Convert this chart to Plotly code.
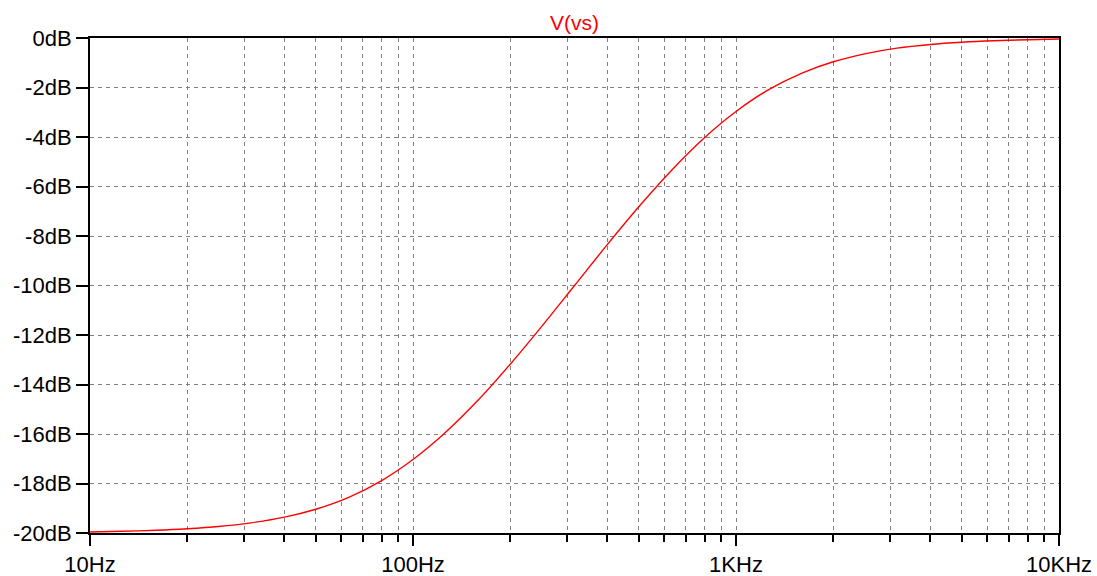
import plotly.graph_objects as go

# Frequencies (Hz) and magnitude (dB)
freq_hz = [10, 12.5, 16, 20, 25, 31.5, 40, 50, 63, 80, 100, 125, 160, 200, 250, 315,
           400, 500, 630, 800, 1000, 1250, 1600, 2000, 2500, 3150, 4000, 5000,
           6300, 8000, 10000]
mag_db = [-19.96, -19.93, -19.89, -19.83, -19.74, -19.59, -19.36, -19.04, -18.57,
          -17.88, -17.03, -15.98, -14.60, -13.18, -11.66, -10.03, -8.34, -6.82,
          -5.36, -4.02, -2.97, -2.12, -1.42, -0.96, -0.64, -0.41, -0.26, -0.17,
          -0.11, -0.07, -0.04]

x_tickvals = [10, 100, 1000, 10000]
x_ticktext = ["10Hz", "100Hz", "1KHz", "10KHz"]
x_minor = [m * d for d in (10, 100, 1000) for m in range(2, 10)]
y_tickvals = list(range(0, -22, -2))
y_ticktext = [f"{v}dB" for v in y_tickvals]

FONT = "Liberation Sans, Arial, sans-serif"
GRID = "#808080"

fig = go.Figure()
fig.add_trace(go.Scatter(x=freq_hz, y=mag_db, mode="lines",
                         line=dict(color="#ff0000", width=1.4, shape="spline"),
                         showlegend=False, hoverinfo="x+y"))

fig.update_layout(
    width=1097, height=576,
    paper_bgcolor="white", plot_bgcolor="white",
    margin=dict(l=90, r=38, t=38, b=43, autoexpand=False),
    font=dict(family=FONT, size=22, color="black"),
    annotations=[dict(text="V(vs)", x=0.5, y=1.0, xref="paper", yref="paper",
                      xanchor="center", yanchor="bottom", yshift=2, showarrow=False,
                      font=dict(family=FONT, size=21, color="#ff0000"))],
)
fig.update_xaxes(
    type="log", range=[1, 4], automargin=False,
    tickvals=x_tickvals, ticktext=x_ticktext,
    showline=True, linecolor="black", linewidth=2, mirror=True,
    ticks="outside", ticklen=11, tickwidth=1.5, tickcolor="black",
    showgrid=True, gridcolor=GRID, griddash="4px,4px", gridwidth=1.2,
    minor=dict(tickvals=x_minor, ticks="outside", ticklen=7, tickwidth=1.5, tickcolor="black",
               showgrid=True, gridcolor=GRID, griddash="4px,4px", gridwidth=1.2),
    zeroline=False, fixedrange=True,
)
fig.update_yaxes(
    range=[-20, 0], automargin=False,
    tickvals=y_tickvals, ticktext=y_ticktext,
    showline=True, linecolor="black", linewidth=2, mirror=True,
    ticks="outside", ticklen=12, tickwidth=1.5, tickcolor="black",
    showgrid=True, gridcolor=GRID, griddash="4px,4px", gridwidth=1.2,
    zeroline=False, fixedrange=True,
)

# remove the browser's default 8px body margin so the figure fills the window exactly
fig.write_html("out.html", config={"displayModeBar": False},
               post_script="document.body.style.margin='0';")
